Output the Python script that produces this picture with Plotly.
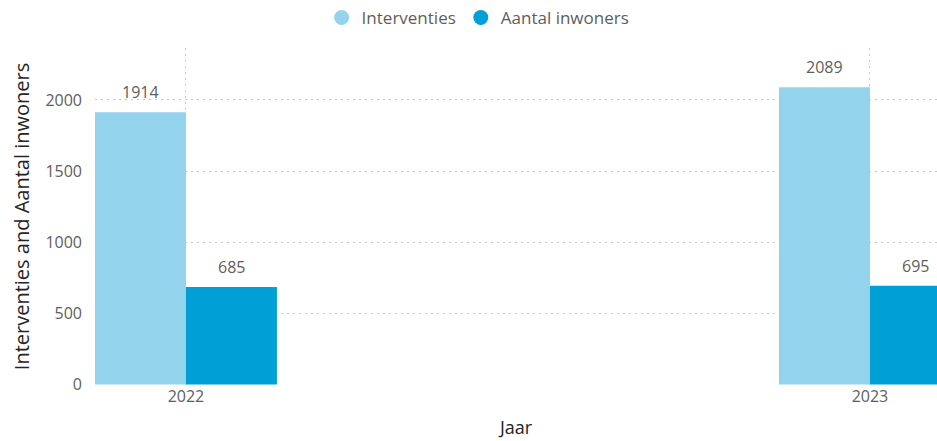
import plotly.graph_objects as go

years = [2022, 2023]
interventies = [1914, 2089]
inwoners = [685, 695]
series_names = ["Interventies", "Aantal inwoners"]
colors = ["#93D4EC", "#00A0D6"]

FONT = "Open Sans"
LABEL = "#605E5C"
GRID = "#C8C6C4"
bw = 0.133

fig = go.Figure()
for vals, name, col, off in [(interventies, series_names[0], colors[0], -bw),
                             (inwoners, series_names[1], colors[1], 0)]:
    fig.add_trace(go.Bar(
        x=years, y=vals, name=name, showlegend=False,
        marker=dict(color=col, line=dict(width=0)),
        width=bw, offset=off,
    ))
    # legend entry with circle marker
    fig.add_trace(go.Scatter(
        x=[None], y=[None], mode="markers", name=name,
        marker=dict(symbol="circle", size=15, color=col),
    ))
    # data labels above the bars
    for xv, yv in zip(years, vals):
        fig.add_annotation(
            x=xv + off + bw / 2, y=yv, text=str(yv), showarrow=False,
            xanchor="center", yanchor="bottom", yshift=7,
            font=dict(family=FONT, size=16, color=LABEL),
        )

fig.update_layout(
    width=937, height=441,
    margin=dict(l=95, r=0, t=48, b=56, autoexpand=False),
    paper_bgcolor="white", plot_bgcolor="white",
    font=dict(family=FONT, color=LABEL),
    showlegend=True,
    legend=dict(orientation="h", x=0.455, xanchor="center", y=1.0, yref="container",
                yanchor="top", font=dict(family=FONT, size=17, color=LABEL),
                itemwidth=30, traceorder="normal", tracegroupgap=0),
    xaxis=dict(
        range=[2022 - bw, 2023 + 0.098],
        tickvals=years, ticktext=[str(y) for y in years],
        showgrid=True, gridcolor=GRID, griddash="2px,4px", gridwidth=1,
        zeroline=False, showline=False, ticks="", automargin=False,
        tickfont=dict(family=FONT, size=16, color=LABEL),
        title=dict(text="Jaar", font=dict(family=FONT, size=18, color="#252423")),
    ),
    yaxis=dict(
        range=[-3, 2365],
        tickvals=[0, 500, 1000, 1500, 2000],
        showgrid=True, gridcolor=GRID, griddash="2px,4px", gridwidth=1,
        zeroline=False, showline=False, ticks="", automargin=False,
        ticklabelstandoff=12,
        tickfont=dict(family=FONT, size=16, color=LABEL),
        title=dict(text="Interventies and Aantal inwoners", standoff=10,
                   font=dict(family=FONT, size=20, color="#252423")),
    ),
)

fig.write_html("out.html", config={"displayModeBar": False},
               post_script="document.body.style.margin='0';document.body.style.overflow='hidden';")
